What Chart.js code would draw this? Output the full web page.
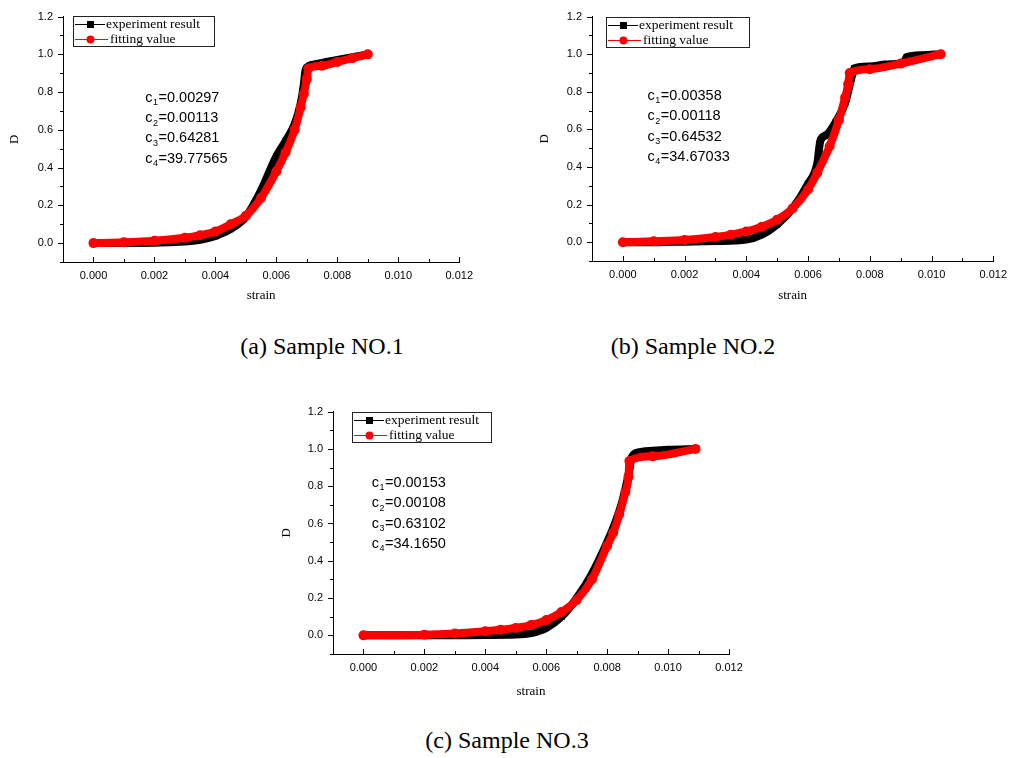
<!DOCTYPE html>
<html>
<head>
<meta charset="utf-8">
<title>Damage fitting</title>
<script src="https://cdn.jsdelivr.net/npm/chart.js@4.4.1/dist/chart.umd.min.js"></script>
<style>
  body { margin: 0; width: 1014px; height: 758px; background: #fff; position: relative; overflow: hidden; }
  canvas { position: absolute; }
  .cap { position: absolute; font-family: "Liberation Serif", "Times New Roman", serif; font-size: 24px; color: #000;
         transform: translate(-50%, -50%); white-space: nowrap; }
</style>
</head>
<body>
<canvas id="chart1" width="480" height="310" style="left:0;top:0"></canvas>
<canvas id="chart2" width="494" height="310" style="left:520px;top:0"></canvas>
<canvas id="chart3" width="480" height="310" style="left:270px;top:395px"></canvas>
<div class="cap" style="left:322px;top:346px">(a) Sample NO.1</div>
<div class="cap" style="left:693px;top:346px">(b) Sample NO.2</div>
<div class="cap" style="left:507px;top:740px">(c) Sample NO.3</div>

<script>
// 目盛
var strainTicks = [0, 0.002, 0.004, 0.006, 0.008, 0.010, 0.012];
var dTicks = [0, 0.2, 0.4, 0.6, 0.8, 1.0, 1.2];

// Sample NO.1
var exp1Strain = [0, 0.001, 0.002, 0.003, 0.0035, 0.004, 0.0045, 0.005, 0.0055, 0.006, 0.0063, 0.0066, 0.0068, 0.0069, 0.00695, 0.0070, 0.0072, 0.0075, 0.008, 0.0085, 0.009];
var exp1D      = [0, 0, 0.002, 0.008, 0.018, 0.038, 0.075, 0.14, 0.28, 0.46, 0.54, 0.63, 0.74, 0.84, 0.91, 0.93, 0.945, 0.955, 0.97, 0.985, 1.0];
var fit1Strain = [0, 0.001, 0.002, 0.003, 0.0035, 0.004, 0.0045, 0.005, 0.0055, 0.006, 0.0063, 0.0066, 0.0068, 0.0069, 0.0070, 0.00705, 0.0075, 0.008, 0.0085, 0.009];
var fit1D      = [0, 0.004, 0.012, 0.028, 0.042, 0.062, 0.1, 0.145, 0.24, 0.38, 0.48, 0.6, 0.72, 0.79, 0.87, 0.925, 0.94, 0.96, 0.98, 1.0];
var coef1 = ['0.00297', '0.00113', '0.64281', '39.77565'];

// Sample NO.2
var exp2Strain = [0, 0.001, 0.002, 0.003, 0.004, 0.0045, 0.005, 0.0055, 0.006, 0.0063, 0.0064, 0.0066, 0.0069, 0.0072, 0.0074, 0.0075, 0.008, 0.0085, 0.009, 0.0091, 0.0092, 0.0097, 0.0103];
var exp2D      = [0, 0, 0.003, 0.006, 0.014, 0.04, 0.095, 0.18, 0.31, 0.42, 0.54, 0.57, 0.64, 0.74, 0.87, 0.925, 0.935, 0.945, 0.95, 0.955, 0.985, 0.995, 1.0];
var fit2Strain = [0, 0.001, 0.002, 0.003, 0.0035, 0.004, 0.0045, 0.005, 0.0055, 0.006, 0.0063, 0.0067, 0.007, 0.0072, 0.0073, 0.00735, 0.008, 0.009, 0.0103];
var fit2D      = [0, 0.005, 0.012, 0.028, 0.04, 0.057, 0.082, 0.12, 0.18, 0.28, 0.37, 0.51, 0.65, 0.77, 0.84, 0.9, 0.92, 0.95, 1.0];
var coef2 = ['0.00358', '0.00118', '0.64532', '34.67033'];

// Sample NO.3
var exp3Strain = [0, 0.002, 0.004, 0.005, 0.0055, 0.006, 0.0065, 0.007, 0.0075, 0.008, 0.0083, 0.0085, 0.0087, 0.0088, 0.009, 0.0095, 0.010, 0.0109];
var exp3D      = [0, 0, 0.002, 0.004, 0.012, 0.04, 0.1, 0.2, 0.33, 0.5, 0.62, 0.72, 0.86, 0.95, 0.98, 0.99, 0.995, 1.0];
var fit3Strain = [0, 0.002, 0.003, 0.004, 0.0045, 0.005, 0.0055, 0.006, 0.0065, 0.007, 0.0075, 0.008, 0.0082, 0.0084, 0.0086, 0.0087, 0.00873, 0.0095, 0.0109];
var fit3D      = [0, 0.003, 0.01, 0.022, 0.03, 0.04, 0.055, 0.082, 0.125, 0.19, 0.3, 0.48, 0.55, 0.65, 0.77, 0.85, 0.935, 0.96, 1.0];
var coef3 = ['0.00153', '0.00108', '0.63102', '34.1650'];

function toPoints(xs, ys) {
  return xs.map(function(x, i) { return {x: x, y: ys[i]}; });
}

// 副目盛を含めた目盛線（y:外向き、x:内向き）
var axisTicks = {
  id: 'axisTicks',
  afterDraw: function(chart) {
    var ctx = chart.ctx, xs = chart.scales.x, ys = chart.scales.y;
    var left = chart.chartArea.left, bottom = chart.chartArea.bottom;
    ctx.save();
    ctx.strokeStyle = '#000';
    ctx.lineWidth = 1;
    ctx.beginPath();
    for (var i = 0; i < dTicks.length; i++) {
      var py = Math.round(ys.getPixelForValue(dTicks[i])) + 0.5;
      ctx.moveTo(left - 5, py); ctx.lineTo(left, py);
      var my = Math.round(ys.getPixelForValue(dTicks[i] - 0.1)) + 0.5;
      ctx.moveTo(left - 3, my); ctx.lineTo(left, my);
    }
    for (var j = 0; j < strainTicks.length; j++) {
      var px = Math.round(xs.getPixelForValue(strainTicks[j])) + 0.5;
      ctx.moveTo(px, bottom); ctx.lineTo(px, bottom - 5);
      var mx = Math.round(xs.getPixelForValue(strainTicks[j] - 0.001)) + 0.5;
      ctx.moveTo(mx, bottom); ctx.lineTo(mx, bottom - 3);
    }
    ctx.stroke();
    ctx.restore();
  }
};

// 凡例（枠付き、グラフ内左上）
var legendBox = {
  id: 'legendBox',
  afterDraw: function(chart, args, opts) {
    var ctx = chart.ctx;
    var x = chart.chartArea.left + opts.dx, y = chart.chartArea.top + opts.dy;
    var w = opts.w, h = 30;
    ctx.save();
    ctx.fillStyle = '#fff';
    ctx.fillRect(x, y, w, h);
    ctx.strokeStyle = '#222';
    ctx.lineWidth = 1;
    ctx.strokeRect(Math.round(x) + 0.5, Math.round(y) + 0.5, w, h);
    ctx.font = '13.5px "Liberation Serif", "Times New Roman", serif';
    ctx.textBaseline = 'middle';
    chart.data.datasets.forEach(function(ds, i) {
      var cy = Math.round(y + 8 + i * 15) + 0.5;
      ctx.strokeStyle = ds.borderColor;
      ctx.beginPath();
      ctx.moveTo(x + 2, cy); ctx.lineTo(x + (i ? 35 : 32), cy);
      ctx.stroke();
      ctx.fillStyle = ds.backgroundColor;
      if (ds.pointStyle === 'rect') {
        ctx.fillRect(x + 14, cy - 3.5, 7, 7);
      } else {
        ctx.beginPath(); ctx.arc(x + 17.5, cy, 4, 0, Math.PI * 2); ctx.fill();
      }
      ctx.fillStyle = '#000';
      ctx.fillText(ds.label, x + (i ? 37 : 33), cy);
    });
    ctx.restore();
  }
};

// 係数 c1〜c4
var coefText = {
  id: 'coefText',
  afterDraw: function(chart, args, opts) {
    var ctx = chart.ctx;
    var x0 = chart.scales.x.getPixelForValue(opts.strain);
    var y0 = chart.scales.y.getPixelForValue(opts.d);
    ctx.save();
    ctx.fillStyle = '#000';
    ctx.textBaseline = 'middle';
    opts.values.forEach(function(v, i) {
      var y = y0 + i * 20.3;
      ctx.font = '14.5px "Liberation Sans", Arial, sans-serif';
      ctx.fillText('c', x0, y);
      var cw = ctx.measureText('c').width;
      ctx.font = '9px "Liberation Sans", Arial, sans-serif';
      ctx.fillText(String(i + 1), x0 + cw + 0.5, y + 5);
      var sw = ctx.measureText(String(i + 1)).width;
      ctx.font = '14.5px "Liberation Sans", Arial, sans-serif';
      ctx.fillText('=' + v, x0 + cw + sw + 1, y);
    });
    ctx.restore();
  }
};

function makeChart(id, expX, expY, fitX, fitY, coef, cfg) {
  var tickFont = {family: '"Liberation Sans", Arial, sans-serif', size: 11};
  var titleFont = {family: '"Liberation Serif", "Times New Roman", serif', size: 13};
  return new Chart(document.getElementById(id), {
    type: 'scatter',
    data: {
      datasets: [{
        label: 'experiment result',
        data: toPoints(expX, expY),
        showLine: true,
        cubicInterpolationMode: 'monotone',
        borderColor: '#000',
        backgroundColor: '#000',
        borderWidth: 8,
        pointStyle: 'rect',
        pointRadius: 4.5,
        pointBorderWidth: 0,
        order: 2
      }, {
        label: 'fitting value',
        data: toPoints(fitX, fitY),
        showLine: true,
        cubicInterpolationMode: 'monotone',
        borderColor: '#ff0000',
        backgroundColor: '#ff0000',
        borderWidth: 8,
        borderCapStyle: 'round',
        borderJoinStyle: 'round',
        pointStyle: 'circle',
        pointRadius: 5,
        pointBorderWidth: 0,
        order: 1
      }]
    },
    options: {
      responsive: false,
      animation: false,
      layout: {padding: {top: cfg.top, right: cfg.right, left: 0, bottom: 0}},
      plugins: {
        legend: {display: false},
        tooltip: {enabled: false},
        legendBox: {dx: cfg.lx, dy: cfg.ly, w: cfg.lw},
        coefText: {strain: cfg.cs, d: cfg.cd, values: coef}
      },
      scales: {
        x: {
          type: 'linear', min: -0.001, max: 0.012,
          afterBuildTicks: function(s) { s.ticks = strainTicks.map(function(v) { return {value: v}; }); },
          afterFit: function(s) { s.height = cfg.bottom; },
          ticks: {font: tickFont, color: '#000', padding: 7, autoSkip: false, maxRotation: 0,
                  callback: function(v) { return v.toFixed(3); }},
          grid: {drawOnChartArea: false, drawTicks: false},
          border: {color: '#000', width: 1},
          title: {display: true, text: 'strain', font: titleFont, color: '#000', padding: {top: 0, bottom: cfg.sb}}
        },
        y: {
          type: 'linear', min: -0.1, max: 1.2,
          afterBuildTicks: function(s) { s.ticks = dTicks.map(function(v) { return {value: v}; }); },
          afterFit: function(s) { s.width = cfg.left; },
          ticks: {font: tickFont, color: '#000', padding: 10, autoSkip: false,
                  callback: function(v) { return v.toFixed(1); }},
          grid: {drawOnChartArea: false, drawTicks: false},
          border: {color: '#000', width: 1},
          title: {display: true, text: 'D', font: titleFont, color: '#000', padding: {top: cfg.dt, bottom: 0}}
        }
      }
    },
    plugins: [axisTicks, legendBox, coefText]
  });
}

makeChart('chart1', exp1Strain, exp1D, fit1Strain, fit1D, coef1,
  {left: 63, top: 11, right: 18, bottom: 48, sb: 7, dt: 7, lx: 10, ly: -1, lw: 141, cs: 0.0017, cd: 0.77});
makeChart('chart2', exp2Strain, exp2D, fit2Strain, fit2D, coef2,
  {left: 72, top: 7, right: 17, bottom: 49, sb: 7, dt: 17, lx: 14, ly: 0, lw: 143, cs: 0.0008, cd: 0.778});
makeChart('chart3', exp3Strain, exp3D, fit3Strain, fit3D, coef3,
  {left: 63, top: 10, right: 21, bottom: 51, sb: 6, dt: 9, lx: 19, ly: 0, lw: 139, cs: 0.00027, cd: 0.817});
</script>
</body>
</html>
